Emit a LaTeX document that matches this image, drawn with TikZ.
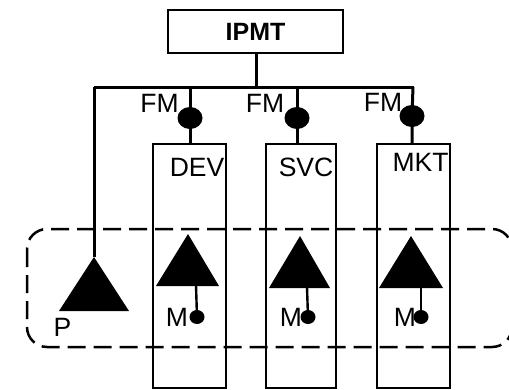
\documentclass[tikz,border=0pt]{standalone}
\usepackage{fontspec}
\setmainfont{Liberation Sans}
\usetikzlibrary{shapes.geometric}
\tikzset{
  lbl/.style={inner sep=0pt,font=\fontsize{26.5pt}{27pt}\selectfont},
  colbox/.style={draw,line width=2.4pt,minimum width=73pt,minimum height=244pt,inner sep=0pt},
  fmdot/.style={ellipse,fill=black,minimum width=25pt,minimum height=22pt,inner sep=0pt},
  mdot/.style={ellipse,fill=black,minimum width=15pt,minimum height=14pt,inner sep=0pt},
  bus/.style={line width=3pt},
  stemline/.style={line width=2.4pt},
  tri/.style={fill=black}
}
\begin{document}
\begin{tikzpicture}[x=1pt,y=-1pt]
\useasboundingbox (0,0) rectangle (509,389);
\begin{scope}
\clip (0,0) rectangle (509,389);
% dashed group
\draw[line width=2.5pt,dash pattern=on 18pt off 8pt,rounded corners=20pt] (27,229) rectangle (512,347);
% IPMT
\node[draw,line width=2.4pt,minimum width=175pt,minimum height=43pt,inner sep=0pt,font=\fontsize{25pt}{26pt}\selectfont\bfseries] (ipmt) at (255.5,31.5) {IPMT};
% bus
\coordinate (busL) at (94,87);
\coordinate (busR) at (414,87);
\coordinate (busC) at (256,87);
\draw[bus] (busL) -- (busR);
\draw[bus] (ipmt.south -| busC) -- (busC);
% column boxes
\node[colbox] (dev) at (189.5,266) {};
\node[colbox,minimum width=70pt] (svc) at (301,266) {};
\node[colbox] (mkt) at (413.5,266) {};
% FM dots
\node[fmdot] (fm1) at (190,118) {};
\node[fmdot] (fm2) at (297,118) {};
\node[fmdot] (fm3) at (412,116) {};
\coordinate (b1) at (190,87);
\coordinate (b2) at (297,87);
\coordinate (b3) at (413,87);
\draw[bus] (b1) -- (fm1.center) -- (fm1 |- dev.north);
\draw[bus] (b2) -- (fm2.center) -- (fm2 |- svc.north);
\draw[bus] (b3) -- (fm3.center) -- (fm3 |- mkt.north);
\node[lbl] (fml1) at (159.5,103) {FM};
\node[lbl] (fml2) at (265,103) {FM};
\node[lbl] (fml3) at (383,102) {FM};
\node[lbl] (devl) at (197,167) {DEV};
\node[lbl] (svcl) at (306,167) {SVC};
\node[lbl] (mktl) at (420.5,162) {MKT};
% P triangle
\coordinate (pA) at (94,257);
\fill[tri] (pA) -- (129,311) -- (59,311) -- cycle;
\draw[bus] (busL) -- (pA);
\node[lbl] (pl) at (62.5,327.5) {P};
% column triangles
\coordinate (t1) at (188,234);
\coordinate (t2) at (300,236);
\coordinate (t3) at (411,236);
\fill[tri] (t1) -- (219,286) -- (156,286) -- cycle;
\fill[tri] (t2) -- (330,288) -- (269,288) -- cycle;
\fill[tri] (t3) -- (443,288) -- (379,288) -- cycle;
\node[lbl] (m1) at (177,317.5) {M};
\node[lbl] (m2) at (291,317.5) {M};
\node[lbl] (m3) at (405,317) {M};
\node[mdot] (md1) at (197,317) {};
\node[mdot] (md2) at (308,317) {};
\node[mdot] (md3) at (421,317) {};
\coordinate (s1) at (196,285);
\coordinate (s2) at (307,287);
\coordinate (s3) at (421,287);
\draw[stemline] (s1) -- (md1.center);
\draw[stemline] (s2) -- (md2.center);
\draw[stemline] (s3) -- (md3.center);
\end{scope}
\end{tikzpicture}
\end{document}
